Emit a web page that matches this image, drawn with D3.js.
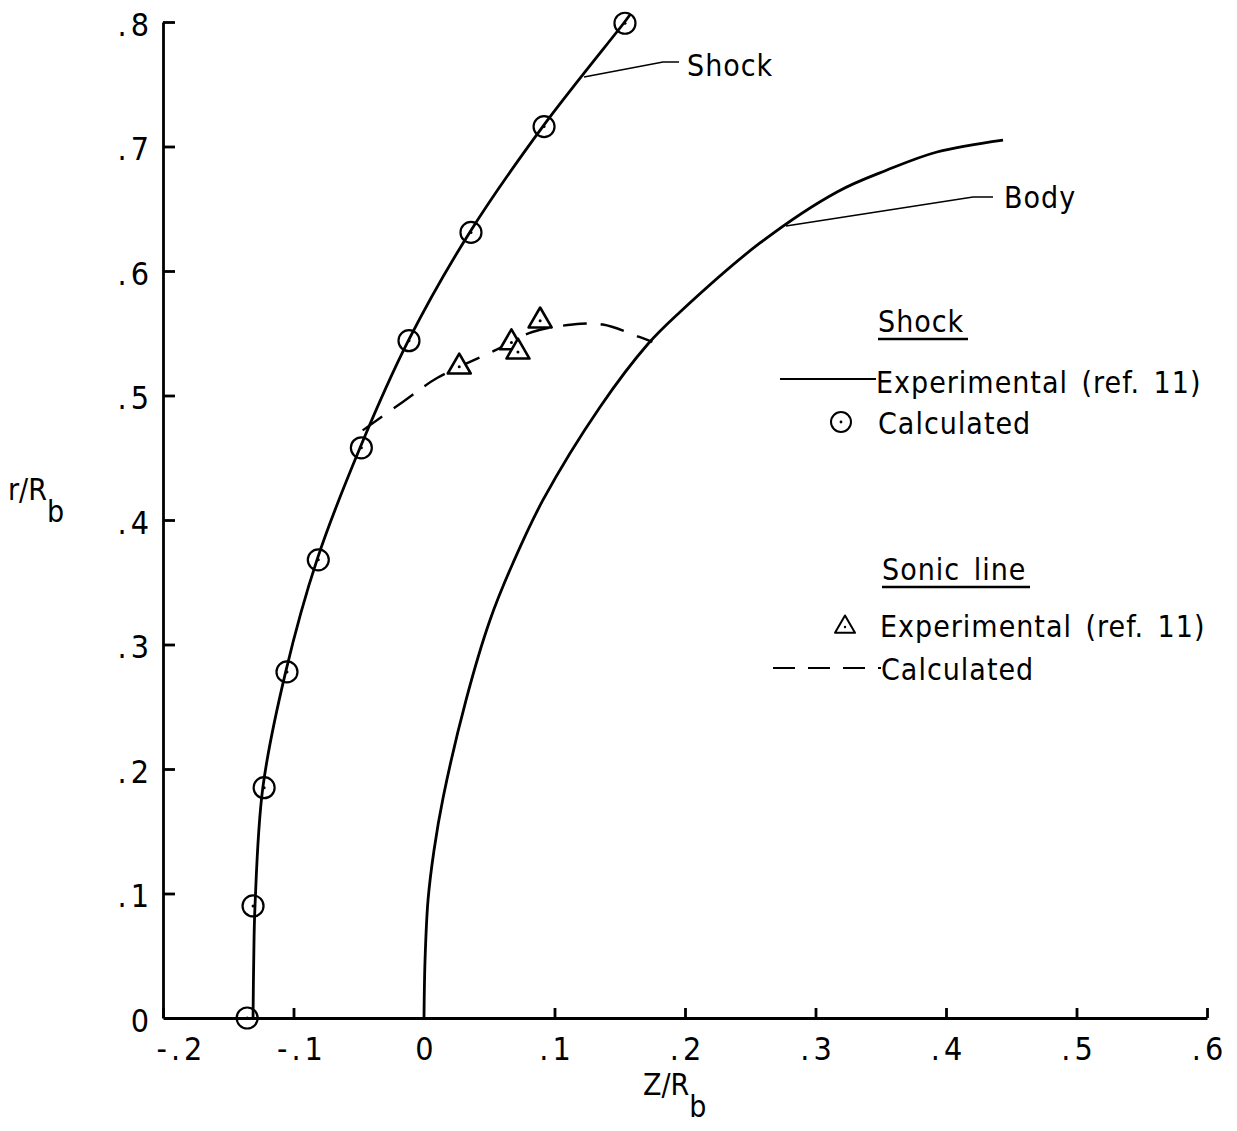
<!DOCTYPE html>
<html>
<head>
<meta charset="utf-8">
<script src="https://cdn.jsdelivr.net/npm/d3@7"></script>
<style>
  html, body { margin: 0; padding: 0; background: #fff; }
  svg { display: block; }
  text { font-family: 'DejaVu Sans Condensed', 'Liberation Sans Narrow', sans-serif; fill: #000; }
</style>
</head>
<body>
<svg id="chart" width="1237" height="1131"></svg>
<script>
// Axis ticks
const xTicks = [-0.2, -0.1, 0, 0.1, 0.2, 0.3, 0.4, 0.5, 0.6];
const xTickLabels = ["-.2", "-.1", "0", ".1", ".2", ".3", ".4", ".5", ".6"];
const yTicks = [0, 0.1, 0.2, 0.3, 0.4, 0.5, 0.6, 0.7, 0.8];
const yTickLabels = ["0", ".1", ".2", ".3", ".4", ".5", ".6", ".7", ".8"];

// Shock position, experimental (ref. 11): [Z/Rb, r/Rb]
const shockExp = [
  [-0.131, 0.000], [-0.1305, 0.045], [-0.1295, 0.090], [-0.1235, 0.185],
  [-0.106, 0.278], [-0.082, 0.368], [-0.049, 0.458], [-0.012, 0.544],
  [0.035, 0.631], [0.091, 0.716], [0.153, 0.799], [0.158, 0.806]
];

// Shock position, calculated
const shockCalc = [
  [-0.1355, 0.000], [-0.131, 0.090], [-0.1225, 0.185], [-0.105, 0.278],
  [-0.081, 0.368], [-0.048, 0.458], [-0.0115, 0.544], [0.036, 0.631],
  [0.092, 0.716], [0.154, 0.799]
];

// Body contour
const body = [
  [0.0000, 0.0000], [0.0008, 0.0466], [0.0031, 0.0948], [0.0077, 0.1350],
  [0.0146, 0.1767], [0.0322, 0.2554], [0.0506, 0.3197], [0.0682, 0.3655],
  [0.0912, 0.4161], [0.1349, 0.4908], [0.1716, 0.5414], [0.1962, 0.5671],
  [0.2575, 0.6225], [0.3165, 0.6635], [0.3548, 0.6811], [0.3931, 0.6956],
  [0.4437, 0.7052]
];

// Sonic line, calculated
const sonicCalc = [
  [-0.047, 0.472], [-0.016, 0.495], [0.010, 0.514], [0.056, 0.537],
  [0.083, 0.551], [0.114, 0.557], [0.137, 0.557], [0.165, 0.547],
  [0.175, 0.543]
];

// Sonic line, experimental (ref. 11)
const sonicExp = [
  [0.027, 0.523], [0.067, 0.5425], [0.072, 0.535], [0.089, 0.560]
];

const svg = d3.select("#chart");
const x = d3.scaleLinear().domain([-0.2, 0.6]).range([163, 1207]);
const y = d3.scaleLinear().domain([0, 0.8]).range([1018, 22]);

const FONT = 30;
const TICKFONT = 32;
const SW = 2.8;

// Axes with inward ticks
const xAxis = d3.axisBottom(x)
  .tickValues(xTicks)
  .tickFormat((d, i) => xTickLabels[i])
  .tickSizeInner(-10).tickSizeOuter(0).tickPadding(19);
const yAxis = d3.axisLeft(y)
  .tickValues(yTicks)
  .tickFormat((d, i) => yTickLabels[i])
  .tickSizeInner(-12).tickSizeOuter(0).tickPadding(10);

const gx = svg.append("g").attr("transform", `translate(0,${y(0)})`).call(xAxis);
const gy = svg.append("g").attr("transform", `translate(${x(-0.2)},0)`).call(yAxis);
[gx, gy].forEach(g => {
  g.attr("font-size", TICKFONT)
   .attr("font-family", "'DejaVu Sans Condensed', 'Liberation Sans Narrow', sans-serif");
  g.select(".domain").attr("stroke", "#000").attr("stroke-width", SW);
  g.selectAll(".tick line").attr("stroke", "#000").attr("stroke-width", SW);
  g.selectAll(".tick text").attr("fill", "#000").attr("letter-spacing", 4);
});
gy.selectAll(".tick text").attr("dy", "0.42em");
// negative labels sit a little to the right of their ticks, clear of the corner
gx.selectAll(".tick text").attr("dx", d => d < -0.15 ? 18 : d < 0 ? 8 : 2);
// no tick marks at the origin of either axis
gx.selectAll(".tick").filter(d => d === 0).select("line").remove();
gy.selectAll(".tick").filter(d => d === 0).select("line").remove();

// Axis titles
const xt = svg.append("text").attr("x", 643).attr("y", 1095).attr("font-size", FONT);
xt.append("tspan").text("Z/R");
xt.append("tspan").attr("dy", 22).text("b");
const yt = svg.append("text").attr("x", 8).attr("y", 500).attr("font-size", FONT);
yt.append("tspan").text("r/R");
yt.append("tspan").attr("dy", 22).text("b");

const line = d3.line().x(d => x(d[0])).y(d => y(d[1])).curve(d3.curveCatmullRom.alpha(0.5));

// Body
svg.append("path").datum(body).attr("d", line)
  .attr("fill", "none").attr("stroke", "#000").attr("stroke-width", SW);

// Sonic line (calculated)
svg.append("path").datum(sonicCalc).attr("d", line)
  .attr("fill", "none").attr("stroke", "#000").attr("stroke-width", 2.4)
  .attr("stroke-dasharray", "24 14");

// Calculated shock points
const circ = svg.append("g").selectAll("g").data(shockCalc).join("g")
  .attr("transform", d => `translate(${x(d[0])},${y(d[1])})`);
circ.append("circle").attr("r", 10.5).attr("fill", "none").attr("stroke", "#000").attr("stroke-width", 2.2);
circ.append("circle").attr("r", 1.5).attr("fill", "#000");

// Experimental shock
svg.append("path").datum(shockExp).attr("d", line)
  .attr("fill", "none").attr("stroke", "#000").attr("stroke-width", SW);

// Experimental sonic line points
const triPath = s => {
  const h = s * Math.sqrt(3) / 2;
  return `M0,${-2 * h / 3}L${s / 2},${h / 3}L${-s / 2},${h / 3}Z`;
};
const tri = svg.append("g").selectAll("g").data(sonicExp).join("g")
  .attr("transform", d => `translate(${x(d[0])},${y(d[1])})`);
tri.append("path").attr("d", triPath(23)).attr("fill", "#fff").attr("stroke", "#000")
  .attr("stroke-width", 2.6).attr("stroke-linejoin", "round");
tri.append("circle").attr("r", 1.5).attr("fill", "#000");

// Curve labels with leader lines
const leader = pts => svg.append("path").attr("d", d3.line()(pts))
  .attr("fill", "none").attr("stroke", "#000").attr("stroke-width", 1.7);
const label = (tx, ty, s, g = svg) => g.append("text").attr("x", tx).attr("y", ty)
  .attr("font-size", FONT).attr("letter-spacing", 1).attr("word-spacing", 4).text(s);
leader([[584, 77], [663, 62], [679, 62]]);
label(687, 76, "Shock");
leader([[786, 226], [973, 197], [993, 197]]);
label(1004, 208, "Body");

// Legend
const lg = svg.append("g");
const heading = (tx, ty, s, w) => {
  label(tx, ty, s, lg);
  lg.append("line").attr("x1", tx).attr("x2", tx + w).attr("y1", ty + 7).attr("y2", ty + 7)
    .attr("stroke", "#000").attr("stroke-width", 2.4);
};
heading(878, 332, "Shock", 90);
lg.append("line").attr("x1", 780).attr("x2", 876).attr("y1", 379).attr("y2", 379)
  .attr("stroke", "#000").attr("stroke-width", 1.9);
label(876, 393, "Experimental (ref. 11)", lg);
lg.append("circle").attr("cx", 841).attr("cy", 422).attr("r", 10)
  .attr("fill", "none").attr("stroke", "#000").attr("stroke-width", 2);
lg.append("circle").attr("cx", 841).attr("cy", 422).attr("r", 1.4).attr("fill", "#000");
label(878, 434, "Calculated", lg);

heading(882, 580, "Sonic line", 148);
lg.append("path").attr("d", triPath(20)).attr("transform", "translate(845,627)")
  .attr("fill", "none").attr("stroke", "#000").attr("stroke-width", 2).attr("stroke-linejoin", "round");
lg.append("circle").attr("cx", 845).attr("cy", 627).attr("r", 1.2).attr("fill", "#000");
label(880, 637, "Experimental (ref. 11)", lg);
lg.append("line").attr("x1", 773).attr("x2", 881).attr("y1", 668).attr("y2", 668)
  .attr("stroke", "#000").attr("stroke-width", 1.9).attr("stroke-dasharray", "22 13");
label(881, 680, "Calculated", lg);
</script>
</body>
</html>
